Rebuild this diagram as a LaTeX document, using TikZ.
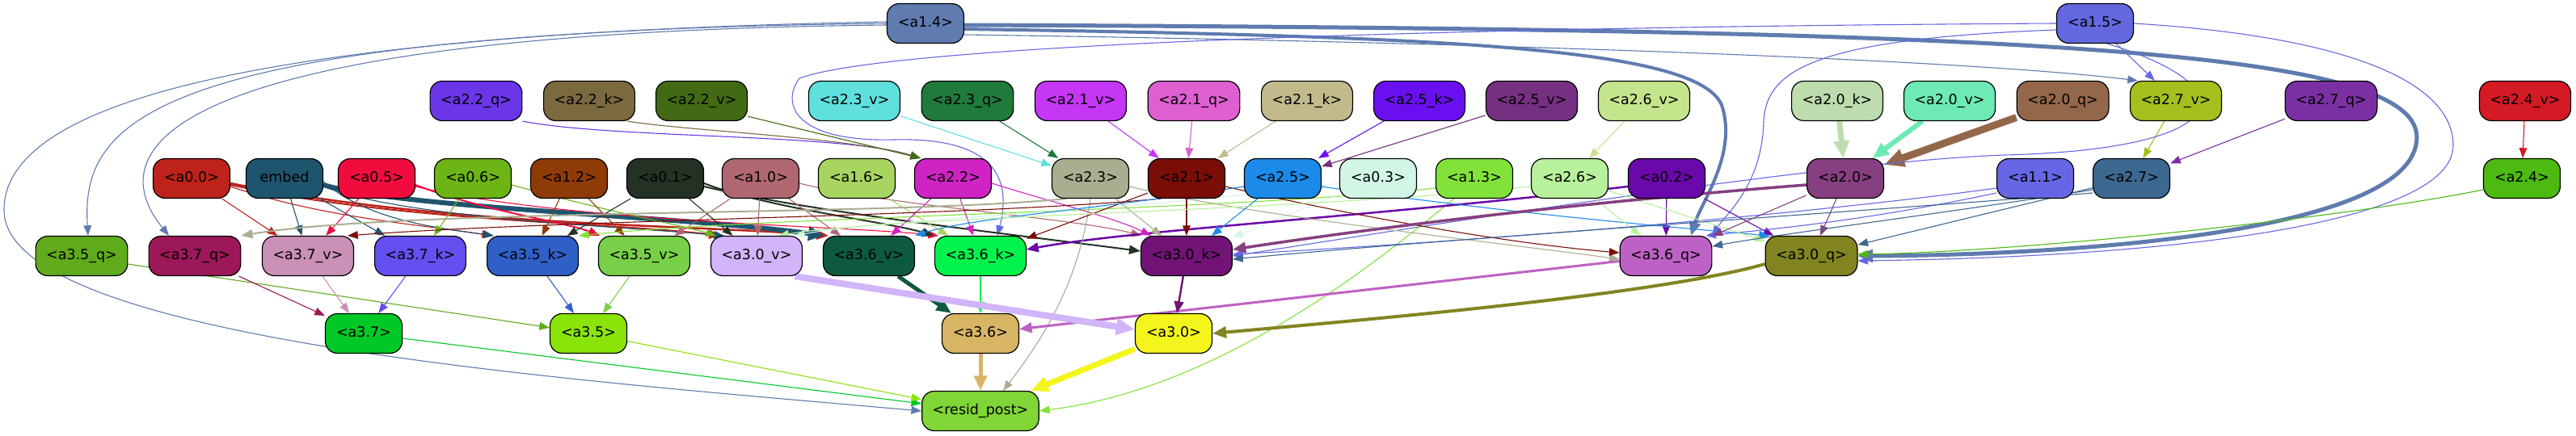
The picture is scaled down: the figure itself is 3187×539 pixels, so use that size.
\documentclass[tikz,border=0pt]{standalone}
\usepackage{fontspec}
\setmainfont{DejaVu Sans}
\usetikzlibrary{arrows.meta,backgrounds}

\definecolor{c00}{HTML}{BD221B}
\definecolor{cEm}{HTML}{1F546E}
\definecolor{c05}{HTML}{F00D3E}
\definecolor{c06}{HTML}{6DB514}
\definecolor{c12}{HTML}{8E3B05}
\definecolor{c01}{HTML}{233224}
\definecolor{c10}{HTML}{B0676F}
\definecolor{c16}{HTML}{A8D560}
\definecolor{c22}{HTML}{CF23C3}
\definecolor{c23}{HTML}{ABAD90}
\definecolor{c21}{HTML}{7A0E07}
\definecolor{c25}{HTML}{1C8AE8}
\definecolor{c03}{HTML}{D2F6E6}
\definecolor{c13}{HTML}{83E23A}
\definecolor{c26}{HTML}{B8F19C}
\definecolor{c02}{HTML}{6A08A9}
\definecolor{c20}{HTML}{863F80}
\definecolor{c11}{HTML}{6666E5}
\definecolor{c27}{HTML}{3D6890}
\definecolor{c24}{HTML}{4CBA10}
\definecolor{c14}{HTML}{5F7BAF}
\definecolor{c15}{HTML}{6468E0}
\definecolor{c22q}{HTML}{6A36E8}
\definecolor{c22k}{HTML}{7B6940}
\definecolor{c22v}{HTML}{426A14}
\definecolor{c23v}{HTML}{5FE0DC}
\definecolor{c23q}{HTML}{1F7A3C}
\definecolor{c21v}{HTML}{C536F5}
\definecolor{c21q}{HTML}{DE5FD0}
\definecolor{c21k}{HTML}{C2BA8C}
\definecolor{c25k}{HTML}{6A10F0}
\definecolor{c25v}{HTML}{753081}
\definecolor{c26v}{HTML}{C5E58D}
\definecolor{c20k}{HTML}{BDDDAF}
\definecolor{c20v}{HTML}{6DEAB5}
\definecolor{c20q}{HTML}{93674A}
\definecolor{c27v}{HTML}{A3C01C}
\definecolor{c27q}{HTML}{7A30A2}
\definecolor{c24v}{HTML}{D41A24}
\definecolor{c35q}{HTML}{60AB1C}
\definecolor{c37q}{HTML}{9C1859}
\definecolor{c37v}{HTML}{CB90B5}
\definecolor{c37k}{HTML}{6450F0}
\definecolor{c35k}{HTML}{2F60C8}
\definecolor{c35v}{HTML}{78D048}
\definecolor{c30v}{HTML}{D2B4F9}
\definecolor{c36v}{HTML}{0E5A41}
\definecolor{c36k}{HTML}{00F34C}
\definecolor{c30k}{HTML}{711476}
\definecolor{c36q}{HTML}{BE61C4}
\definecolor{c30q}{HTML}{828421}
\definecolor{c37}{HTML}{00C927}
\definecolor{c35}{HTML}{8AE40A}
\definecolor{c36}{HTML}{D8B564}
\definecolor{c30}{HTML}{F3F51C}
\definecolor{cRp}{HTML}{80D537}

\begin{document}
\begin{tikzpicture}[x=1pt,y=-1pt,
  head/.style={draw=black,line width=1.2pt,rounded corners=15pt,minimum width=95pt,minimum height=49pt,
    inner xsep=13pt,inner ysep=0pt,text height=12.5pt,text depth=3.5pt,font=\fontsize{17.5}{20}\selectfont},
  wire/.style={->,line width=1.1pt},
  >={Triangle[length=11pt 1.5,width=8pt 1.5]}]
\useasboundingbox (0,0) rectangle (3187,539);

% top row
\node[head,fill=c14] (a14) at (1145,29) {<a1.4>};
\node[head,fill=c15] (a15) at (2592,29) {<a1.5>};

% inputs of layer 2
\node[head,fill=c22q] (a22q) at (589,125) {<a2.2\_q>};
\node[head,fill=c22k] (a22k) at (729,125) {<a2.2\_k>};
\node[head,fill=c22v] (a22v) at (868,125) {<a2.2\_v>};
\node[head,fill=c23v] (a23v) at (1057,125) {<a2.3\_v>};
\node[head,fill=c23q] (a23q) at (1197,125) {<a2.3\_q>};
\node[head,fill=c21v] (a21v) at (1337,125) {<a2.1\_v>};
\node[head,fill=c21q] (a21q) at (1477,125) {<a2.1\_q>};
\node[head,fill=c21k] (a21k) at (1617,125) {<a2.1\_k>};
\node[head,fill=c25k] (a25k) at (1756,125) {<a2.5\_k>};
\node[head,fill=c25v] (a25v) at (1895,125) {<a2.5\_v>};
\node[head,fill=c26v] (a26v) at (2034,125) {<a2.6\_v>};
\node[head,fill=c20k] (a20k) at (2273,125) {<a2.0\_k>};
\node[head,fill=c20v] (a20v) at (2412,125) {<a2.0\_v>};
\node[head,fill=c20q] (a20q) at (2552,125) {<a2.0\_q>};
\node[head,fill=c27v] (a27v) at (2692,125) {<a2.7\_v>};
\node[head,fill=c27q] (a27q) at (2884,125) {<a2.7\_q>};
\node[head,fill=c24v] (a24v) at (3124,125) {<a2.4\_v>};

% heads of layers 0, 1, 2
\node[head,fill=c00] (a00) at (237,221) {<a0.0>};
\node[head,fill=cEm] (embed) at (352,221) {embed};
\node[head,fill=c05] (a05) at (466,221) {<a0.5>};
\node[head,fill=c06] (a06) at (585,221) {<a0.6>};
\node[head,fill=c12] (a12) at (704,221) {<a1.2>};
\node[head,fill=c01] (a01) at (823,221) {<a0.1>};
\node[head,fill=c10] (a10) at (941,221) {<a1.0>};
\node[head,fill=c16] (a16) at (1060,221) {<a1.6>};
\node[head,fill=c22] (a22) at (1179,221) {<a2.2>};
\node[head,fill=c23] (a23) at (1349,221) {<a2.3>};
\node[head,fill=c21] (a21) at (1468,221) {<a2.1>};
\node[head,fill=c25] (a25) at (1587,221) {<a2.5>};
\node[head,fill=c03] (a03) at (1705,221) {<a0.3>};
\node[head,fill=c13] (a13) at (1824,221) {<a1.3>};
\node[head,fill=c26] (a26) at (1942,221) {<a2.6>};
\node[head,fill=c02] (a02) at (2062,221) {<a0.2>};
\node[head,fill=c20] (a20) at (2283,221) {<a2.0>};
\node[head,fill=c11] (a11) at (2518,221) {<a1.1>};
\node[head,fill=c27] (a27) at (2637,221) {<a2.7>};
\node[head,fill=c24] (a24) at (3120,221) {<a2.4>};

% inputs of layer 3
\node[head,fill=c35q] (a35q) at (101,317) {<a3.5\_q>};
\node[head,fill=c37q] (a37q) at (241,317) {<a3.7\_q>};
\node[head,fill=c37v] (a37v) at (381,317) {<a3.7\_v>};
\node[head,fill=c37k] (a37k) at (520,317) {<a3.7\_k>};
\node[head,fill=c35k] (a35k) at (659,317) {<a3.5\_k>};
\node[head,fill=c35v] (a35v) at (797,317) {<a3.5\_v>};
\node[head,fill=c30v] (a30v) at (936,317) {<a3.0\_v>};
\node[head,fill=c36v] (a36v) at (1075,317) {<a3.6\_v>};
\node[head,fill=c36k] (a36k) at (1213,317) {<a3.6\_k>};
\node[head,fill=c30k] (a30k) at (1468,317) {<a3.0\_k>};
\node[head,fill=c36q] (a36q) at (2061,317) {<a3.6\_q>};
\node[head,fill=c30q] (a30q) at (2241,317) {<a3.0\_q>};

% layer 3 and output
\node[head,fill=c37] (a37) at (450,413) {<a3.7>};
\node[head,fill=c35] (a35) at (728,413) {<a3.5>};
\node[head,fill=c36] (a36) at (1213,413) {<a3.6>};
\node[head,fill=c30] (a30) at (1452,413) {<a3.0>};
\node[head,fill=cRp] (resid) at (1213,509) {<resid\_post>};

\begin{scope}[on background layer]
\fill[white] (0,0) rectangle (3187,539);

% into layer 2
\draw[wire,c22q] (a22q.south east) .. controls (760,172) and (1040,165) .. ([xshift=-40pt]a22.north);
\draw[wire,c22k] ([xshift=-10pt]a22k.south east) .. controls (850,162) and (1050,170) .. ([xshift=-40pt]a22.north);
\draw[wire,c22v] ([yshift=6pt]a22v.south east) -- ([xshift=-40pt]a22.north);
\draw[wire,c23v] (a23v) -- (a23);
\draw[wire,c23q] (a23q) -- (a23);
\draw[wire,c21v] (a21v) -- (a21);
\draw[wire,c21q] (a21q) -- (a21);
\draw[wire,c21k] (a21k) -- (a21);
\draw[wire,c25k] (a25k) -- (a25);
\draw[wire,c25v] (a25v) -- (a25);
\draw[wire,c26v] (a26v) -- (a26);
\draw[wire,c20k,line width=7pt] (a20k) -- (a20);
\draw[wire,c20v,line width=6pt] (a20v) -- (a20);
\draw[wire,c20q,line width=9pt] (a20q) -- (a20);
\draw[wire,c27v] (a27v) -- (a27);
\draw[wire,c27q] (a27q) -- (a27);
\draw[wire,c24v] (a24v) -- (a24);
\draw[wire,c15] (a15) -- (a27v);

% a1.4
\draw[wire,c14,line width=5pt] ([yshift=-2pt]a14.east) .. controls (2500,36) and (2990,60) .. (2990,170) .. controls (2990,290) and (2550,316) .. (a30q.east);
\draw[wire,c14,line width=4pt] ([yshift=-7pt]a14.east) .. controls (1800,45) and (2100,60) .. (2130,130) .. controls (2150,190) and (2105,250) .. ([xshift=31pt]a36q.north);
\draw[wire,c14] ([yshift=-14pt]a14.east) .. controls (1700,50) and (2400,70) .. ([xshift=10pt]a27v.north west);
\draw[wire,c14] ([yshift=2pt]a14.west) .. controls (400,40) and (5,110) .. (5,260) .. controls (5,420) and (700,470) .. (resid.west);
\draw[wire,c14] (a14.west) .. controls (180,40) and (100,150) .. ([xshift=8pt]a35q.north);
\draw[wire,c14] ([yshift=-2pt]a14.west) .. controls (250,40) and (110,170) .. ([xshift=-32pt]a37q.north);

% a1.5
\draw[wire,c15] (a15.west) .. controls (1800,33) and (1100,55) .. (989,97) .. controls (965,130) and (985,176) .. (1106,173) .. controls (1230,170) and (1252,220) .. ([xshift=21pt]a36k.north);
\draw[wire,c15] ([yshift=-8pt]a15.west) .. controls (2250,48) and (2185,85) .. (2182,150) .. controls (2180,230) and (2135,265) .. (a36q.north east);
\draw[wire,c15] ([xshift=15pt]a15.south) .. controls (2790,110) and (2760,185) .. (2480,192) .. controls (2250,200) and (1700,290) .. (a30k.east);
\draw[wire,c15] (a15.east) .. controls (2900,45) and (3035,100) .. (3035,180) .. controls (3035,275) and (2700,318) .. ([yshift=-6pt]a30q.east);

% layer 0 and 1 heads into layer 3
\draw[wire,c00] (a00) -- (a37v);
\draw[wire,c00] ([yshift=-10pt]a00.east) .. controls (400,270) and (520,278) .. ([xshift=-50pt]a35k.north);
\draw[wire,c00,line width=2pt] ([yshift=-8pt]a00.east) .. controls (500,275) and (750,275) .. ([xshift=-45pt]a30v.north);
\draw[wire,c00,line width=2.5pt] ([yshift=-6pt]a00.east) .. controls (550,280) and (850,278) .. ([xshift=-50pt]a36v.north);
\draw[wire,cEm] (embed) -- (a37v);
\draw[wire,cEm] (embed) -- (a37k);
\draw[wire,cEm] ([yshift=-4pt]embed.east) .. controls (450,268) and (520,280) .. ([xshift=-48pt]a35k.north);
\draw[wire,cEm,line width=6pt] ([yshift=-8pt]embed.east) .. controls (500,258) and (850,268) .. ([xshift=-55pt]a36v.north);
\draw[wire,cEm] ([yshift=-10pt]embed.east) .. controls (500,270) and (760,280) .. ([xshift=-40pt]a30v.north);
\draw[wire,c05] (a05) -- (a37v);
\draw[wire,c05,line width=2pt] ([yshift=-8pt]a05.east) .. controls (600,262) and (700,275) .. ([xshift=-55pt]a35v.north);
\draw[wire,c05] ([yshift=-10pt]a05.east) .. controls (700,275) and (1050,280) .. ([xshift=-52pt]a36k.north);
\draw[wire,c06] (a06) -- (a37k);
\draw[wire,c06] ([yshift=-8pt]a06.east) .. controls (750,262) and (840,278) .. ([xshift=-50pt]a30v.north);
\draw[wire,c12] (a12) -- (a35k);
\draw[wire,c12] (a12) -- (a35v);
\draw[wire,c01] (a01) -- (a35k);
\draw[wire,c01] (a01) -- (a30v);
\draw[wire,c01,line width=2pt] ([yshift=-6pt]a01.east) .. controls (950,258) and (1100,275) .. ([xshift=-58pt]a36k.north);
\draw[wire,c01,line width=2pt] ([yshift=-10pt]a01.east) .. controls (1000,262) and (1250,290) .. ([yshift=6pt]a30k.west);
\draw[wire,c10] (a10) -- (a35v);
\draw[wire,c10] (a10) -- (a30v);
\draw[wire,c10] (a10) -- (a36v);
\draw[wire,c10] ([yshift=-6pt]a10.east) .. controls (1100,255) and (1330,270) .. ([xshift=-56pt]a30k.north);
\draw[wire,c16] (a16) -- (a36k);
\draw[wire,c13] ([yshift=-12pt]a13.west) .. controls (1500,262) and (950,268) .. (a35k.north east);
\draw[wire,c13] ([xshift=-25pt]a13.south) .. controls (1720,310) and (1520,480) .. (resid.east);
\draw[wire,c03] (a03) -- (a30k);
\draw[wire,c03] ([yshift=-6pt]a03.west) .. controls (1400,262) and (1100,270) .. ([xshift=-10pt]a30v.north east);
\draw[wire,c02,line width=2.5pt] ([yshift=-10pt]a02.west) .. controls (1700,268) and (1400,285) .. ([yshift=8pt]a36k.east);
\draw[wire,c02] (a02) -- (a36q);
\draw[wire,c02] (a02) -- (a30q);
\draw[wire,c11] ([yshift=-12pt]a11.west) .. controls (2200,270) and (1800,300) .. ([yshift=2pt]a30k.east);
\draw[wire,c11] ([yshift=-18pt]a11.west) .. controls (2300,275) and (2180,285) .. ([xshift=-8pt]a36q.north east);

% layer 2 heads into layer 3
\draw[wire,c22] (a22) -- (a36v);
\draw[wire,c22] (a22) -- (a36k);
\draw[wire,c22] ([yshift=-6pt]a22.east) .. controls (1300,250) and (1380,270) .. ([xshift=-44pt]a30k.north);
\draw[wire,c23,line width=2pt] ([xshift=-30pt]a23.south) .. controls (1100,268) and (500,258) .. (a37q.north east);
\draw[wire,c23] (a23) -- (a30k);
\draw[wire,c23] ([yshift=-10pt]a23.east) .. controls (1550,268) and (1850,300) .. ([yshift=-4pt]a36q.west);
\draw[wire,c23] (a23.south) .. controls (1335,350) and (1290,420) .. ([xshift=28pt]resid.north);
\draw[wire,c21] ([xshift=-32pt]a21.south) .. controls (1200,268) and (700,272) .. ([xshift=-8pt]a37v.north east);
\draw[wire,c21] (a21) -- (a36k);
\draw[wire,c21] (a21) -- (a30k);
\draw[wire,c21] ([yshift=-10pt]a21.east) .. controls (1650,262) and (1850,300) .. ([yshift=4pt]a36q.west);
\draw[wire,c25] ([yshift=-10pt]a25.west) .. controls (1350,260) and (1200,270) .. (a36v.north east);
\draw[wire,c25] (a25) -- (a30k);
\draw[wire,c25] ([yshift=-10pt]a25.east) .. controls (1850,262) and (2050,280) .. ([xshift=-52pt]a30q.north);
\draw[wire,c26] (a26) -- (a36q);
\draw[wire,c26] (a26) -- (a30q);
\draw[wire,c26] ([yshift=-10pt]a26.west) .. controls (1600,262) and (1100,268) .. ([xshift=-30pt]a30v.north east);
\draw[wire,c20,line width=3.5pt] ([yshift=-8pt]a20.west) .. controls (1900,255) and (1650,290) .. ([yshift=8pt]a30k.east);
\draw[wire,c20] (a20) -- (a36q);
\draw[wire,c20] (a20) -- (a30q);
\draw[wire,c27] ([yshift=-14pt]a27.west) .. controls (2400,265) and (2200,290) .. ([yshift=12pt]a36q.east);
\draw[wire,c27] (a27) -- (a30q);
\draw[wire,c27] ([yshift=-18pt]a27.west) .. controls (2300,262) and (1800,295) .. ([yshift=-4pt]a30k.east);
\draw[wire,c24] ([yshift=-14pt]a24.west) .. controls (2900,270) and (2500,312) .. ([yshift=2pt]a30q.east);

% into layer 3 heads
\draw[wire,c35q] ([yshift=-10pt]a35q.east) -- (a35);
\draw[wire,c37q] (a37q) -- (a37);
\draw[wire,c37v] (a37v) -- (a37);
\draw[wire,c37k] (a37k) -- (a37);
\draw[wire,c35k] (a35k) -- (a35);
\draw[wire,c35v] (a35v) -- (a35);
\draw[wire,c36v,line width=5pt] (a36v) -- (a36);
\draw[wire,c36k,line width=2pt] (a36k) -- (a36);
\draw[wire,c36q,line width=3pt] (a36q) -- (a36);
\draw[wire,c30v,line width=8pt] ([xshift=-10pt]a30v.south east) -- ([yshift=5pt]a30.west);
\draw[wire,c30k,line width=2.5pt] (a30k) -- (a30);
\draw[wire,c30q,line width=4pt] ([yshift=-10pt]a30q.west) .. controls (2050,365) and (1700,395) .. (a30.east);

% into the output
\draw[wire,c37] (a37) -- (resid);
\draw[wire,c35] (a35) -- (resid);
\draw[wire,c36,line width=5pt] (a36) -- (resid);
\draw[wire,c30,line width=7pt] (a30) -- (resid);
\end{scope}
\end{tikzpicture}
\end{document}
